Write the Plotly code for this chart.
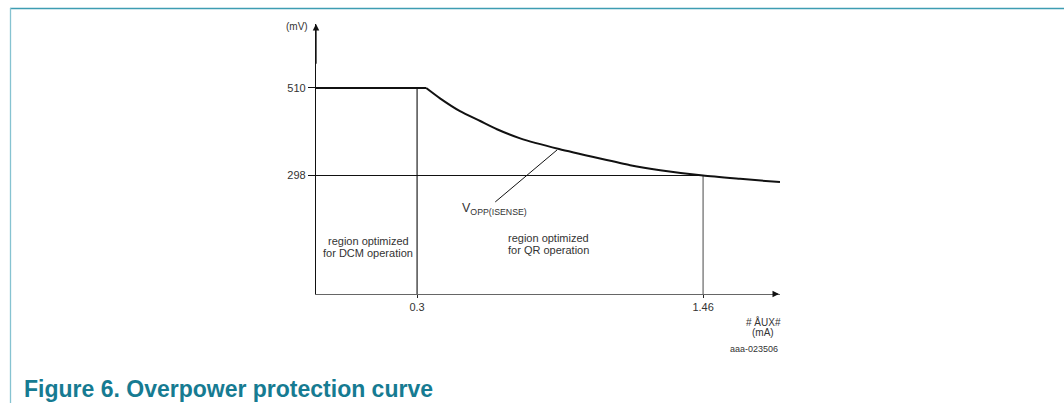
import plotly.graph_objects as go

# ---- data ----
i_aux_ma = [-0.110, 0.337, 0.393, 0.474, 0.556, 0.624, 0.718, 0.876, 1.042, 1.164, 1.286, 1.46, 1.610, 1.772]
v_opp_mv = [510, 510, 485, 454, 430, 410, 388, 362, 339, 323, 311, 298, 290, 282]
x_ticks = [0.3, 1.46]
x_tick_labels = ["0.3", "1.46"]
y_ticks = [298, 510]
y_tick_labels = ["298", "510"]
dcm_boundary_ma = 0.3
qr_point_ma = 1.46
v_max_mv = 510
v_min_mv = 298

X_MIN, X_MAX = -0.110, 1.772
Y_MIN, Y_MAX = 11, 665

FONT = "Liberation Sans, Arial, sans-serif"
TXT = "#333333"

fig = go.Figure()

# reference lines
fig.add_trace(go.Scatter(x=[dcm_boundary_ma, dcm_boundary_ma], y=[v_max_mv, Y_MIN - 7],
                         mode="lines", line=dict(color="#222222", width=1.2),
                         hoverinfo="skip", showlegend=False, cliponaxis=False))
fig.add_trace(go.Scatter(x=[qr_point_ma, qr_point_ma], y=[v_min_mv, Y_MIN - 7],
                         mode="lines", line=dict(color="#666666", width=1.2),
                         hoverinfo="skip", showlegend=False, cliponaxis=False))
fig.add_trace(go.Scatter(x=[X_MIN, qr_point_ma], y=[v_min_mv, v_min_mv],
                         mode="lines", line=dict(color="#111111", width=1.2),
                         hoverinfo="skip", showlegend=False, cliponaxis=False))
# leader line for curve label
fig.add_trace(go.Scatter(x=[0.868, 0.617], y=[360, 234],
                         mode="lines", line=dict(color="#111111", width=1),
                         hoverinfo="skip", showlegend=False))

# main curve: flat part then decaying part
fig.add_trace(go.Scatter(x=i_aux_ma[:2], y=v_opp_mv[:2], mode="lines",
                         line=dict(color="#111111", width=2),
                         hoverinfo="skip", showlegend=False, cliponaxis=False))
fig.add_trace(go.Scatter(x=i_aux_ma[1:], y=v_opp_mv[1:], mode="lines",
                         line=dict(color="#111111", width=2, shape="spline", smoothing=0.6),
                         hoverinfo="skip", showlegend=False, cliponaxis=False))

annotations = []
# axis arrowheads
annotations.append(dict(x=X_MAX - 0.004, y=Y_MIN, xref="x", yref="y", ax=X_MAX - 0.03, ay=Y_MIN,
                        axref="x", ayref="y", text="", showarrow=True, arrowhead=2,
                        arrowsize=1, arrowwidth=1.3, arrowcolor="#111111"))
annotations.append(dict(x=X_MIN, y=Y_MAX, xref="x", yref="y", ax=X_MIN, ay=Y_MAX - 100,
                        axref="x", ayref="y", text="", showarrow=True, arrowhead=2,
                        arrowsize=1, arrowwidth=1.3, arrowcolor="#111111"))


def px_x(p):
    return (p - 316) / 464.0


def px_y(p):
    return (294 - p) / 270.0


def label(px, py, text, size, anchor="center", color=TXT):
    return dict(x=px_x(px), y=px_y(py), xref="paper", yref="paper", text=text, showarrow=False,
                font=dict(family=FONT, size=size, color=color), xanchor=anchor, yanchor="middle")


annotations += [
    label(297, 27, "(mV)", 10),
    label(460, 209, "V<sub>OPP(ISENSE)</sub>", 12.5, anchor="left"),
    label(368, 241, "region optimized", 11),
    label(368, 252.5, "for DCM operation", 11),
    label(548, 238, "region optimized", 11),
    label(548, 250, "for QR operation", 11),
    label(763, 322, "# ÅUX#", 10),
    label(763, 332, "(mA)", 10),
    label(754, 349, "aaa-023506", 9),
    label(22, 389, "<b>Figure 6. Overpower protection curve</b>", 23, anchor="left", color="#167b92"),
]

shapes = [
    dict(type="line", xref="paper", yref="paper", x0=px_x(10), x1=px_x(1064), y0=px_y(8.5), y1=px_y(8.5),
         line=dict(color="#3d9db2", width=1.6)),
    dict(type="line", xref="paper", yref="paper", x0=px_x(10.5), x1=px_x(10.5), y0=px_y(8), y1=px_y(403),
         line=dict(color="#86c3d1", width=1.3)),
]

fig.update_layout(
    width=1064, height=403, autosize=False,
    margin=dict(l=316, r=284, t=24, b=109),
    paper_bgcolor="white", plot_bgcolor="white",
    showlegend=False,
    annotations=annotations,
    shapes=shapes,
    xaxis=dict(range=[X_MIN, X_MAX], showgrid=False, zeroline=False,
               showline=True, linecolor="#666666", linewidth=1.3,
               tickmode="array", tickvals=x_ticks, ticktext=x_tick_labels,
               ticks="outside", ticklen=3, tickcolor="#222222", tickwidth=1.2,
               tickfont=dict(family=FONT, size=11, color=TXT)),
    yaxis=dict(range=[Y_MIN, Y_MAX], showgrid=False, zeroline=False,
               showline=True, linecolor="#111111", linewidth=1.3,
               tickmode="array", tickvals=y_ticks, ticktext=y_tick_labels,
               ticks="outside", ticklen=7, tickcolor="#111111", tickwidth=1.2,
               tickfont=dict(family=FONT, size=11, color=TXT)),
)

fig.write_html("out.html", config={"displayModeBar": False},
               post_script="document.body.style.margin='0';document.body.style.overflow='hidden';")
